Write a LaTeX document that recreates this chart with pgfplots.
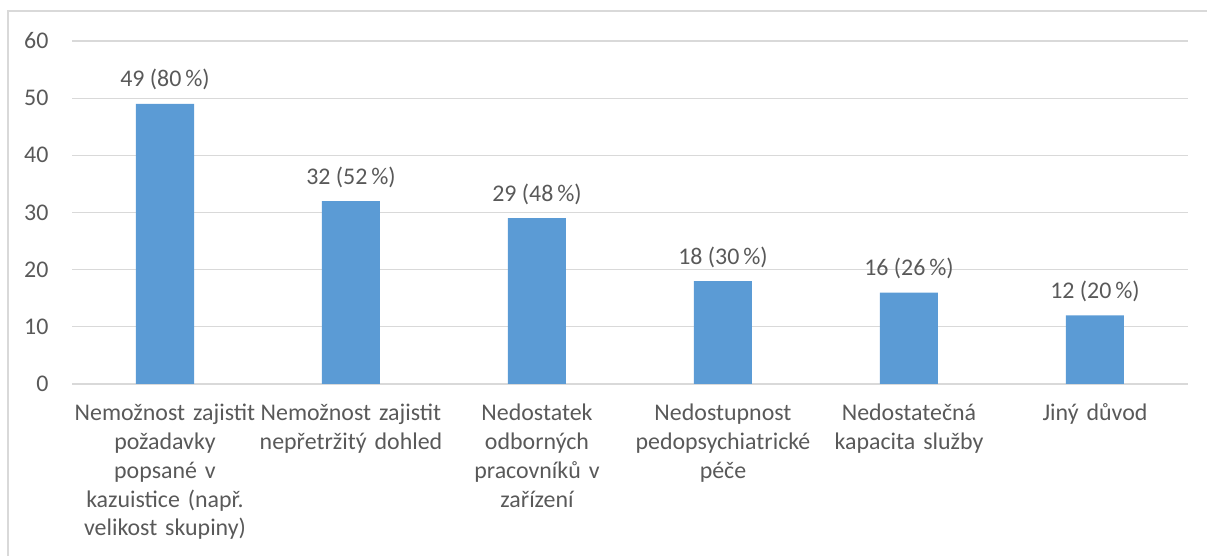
\documentclass[border=0pt]{standalone}
\usepackage{fontspec}
\setmainfont{Carlito}
\usepackage{pgfplots}
\pgfplotsset{compat=1.18}
\definecolor{barblue}{HTML}{5B9BD5}
\definecolor{txtgray}{HTML}{595959}
\definecolor{gridgray}{HTML}{D9D9D9}
\begin{document}
\begin{tikzpicture}[x=1bp,y=1bp]
\useasboundingbox (0,0) rectangle (1207,556);
\draw[gridgray, line width=1.2bp] (8,-5) -- (8,545) -- (1210,545);
\begin{axis}[
  at={(72bp,172bp)}, anchor=south west,
  scale only axis, width=1116bp, height=343bp,
  xmin=-0.5, xmax=5.5, ymin=0, ymax=60,
  ytick={0,10,...,60},
  xtick={0,...,5},
  xticklabels={
    {\strut Nemožnost zajistit\\požadavky\\popsané v\\kazuistice (např.\\velikost skupiny)},
    {\strut Nemožnost zajistit\\nepřetržitý dohled},
    {\strut Nedostatek\\odborných\\pracovníků v\\zařízení},
    {\strut Nedostupnost\\pedopsychiatrické\\péče},
    {\strut Nedostatečná\\kapacita služby},
    {\strut Jiný důvod}},
  axis line style={draw=none},
  major tick length=0pt,
  ymajorgrids, grid style={gridgray, line width=1.2bp},
  tick label style={font=\fontsize{24}{29}\selectfont, text=txtgray},
  /pgf/number format/assume math mode=true,
  yticklabel style={anchor=east, xshift=-20bp},
  xticklabel style={text width=190bp, align=center, anchor=north, inner sep=0pt, yshift=-16bp},
  ybar, bar width=58bp,
  nodes near coords,
  point meta=explicit symbolic,
  every node near coord/.append style={font=\fontsize{24}{29}\selectfont, text=txtgray, anchor=base, yshift=17bp},
]
\addplot[fill=barblue, draw=none] coordinates {
  (0,49) [49 (80\,\%)]
  (1,32) [32 (52\,\%)]
  (2,29) [29 (48\,\%)]
  (3,18) [18 (30\,\%)]
  (4,16) [16 (26\,\%)]
  (5,12) [12 (20\,\%)]
};
\end{axis}
\end{tikzpicture}
\end{document}
